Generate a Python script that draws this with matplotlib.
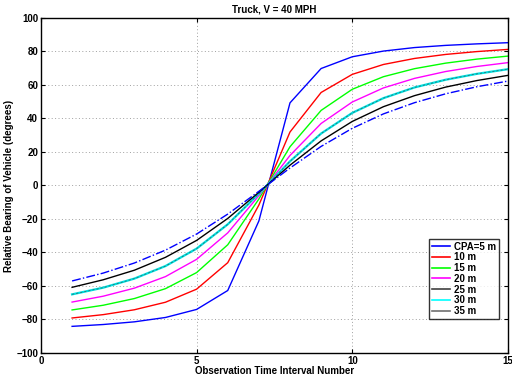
import numpy as np
import matplotlib
matplotlib.use('Agg')
import matplotlib.pyplot as plt
from matplotlib.lines import Line2D

plt.rcParams['font.family'] = ['Liberation Sans', 'DejaVu Sans']
plt.rcParams['font.weight'] = 'bold'

# observation interval number
x = list(range(1, 16))

# relative bearing (degrees), one list per CPA
cpa5 = [-84.1, -83.0, -81.4, -78.8, -74.0, -62.7, -21.2, 49.3, 69.8, 76.8, 80.2, 82.3, 83.6, 84.5, 85.2]
cpa10 = [-79.1, -77.1, -74.2, -69.7, -61.9, -46.1, -11.7, 31.9, 55.5, 66.3, 72.2, 75.8, 78.2, 79.9, 81.2]
cpa15 = [-74.3, -71.5, -67.5, -61.6, -52.0, -35.4, -8.1, 23.1, 44.8, 57.4, 64.9, 69.7, 73.0, 75.4, 77.2]
cpa20 = [-69.6, -66.1, -61.3, -54.4, -44.1, -28.3, -6.1, 17.9, 37.0, 49.8, 58.2, 63.9, 68.0, 71.0, 73.3]
cpa25 = [-65.0, -61.0, -55.6, -48.1, -37.7, -23.2, -4.9, 14.4, 31.0, 43.3, 52.1, 58.5, 63.1, 66.6, 69.4]
cpa30 = [-60.8, -56.3, -50.6, -42.9, -32.8, -19.7, -4.1, 12.1, 26.6, 38.2, 47.0, 53.6, 58.7, 62.6, 65.7]
cpa35 = [-57.0, -52.3, -46.3, -38.6, -29.0, -17.1, -3.5, 10.4, 23.3, 34.1, 42.7, 49.4, 54.7, 58.9, 62.3]

labels = ['CPA=5 m', '10 m', '15 m', '20 m', '25 m', '30 m', '35 m']
legend_colors = ['#0000ff', '#ff0000', '#00ff00', '#ff00ff', '#404040', '#00ffff', '#707070']

fig = plt.figure(figsize=(5.12, 3.81), dpi=100)
ax = fig.add_axes([0.080, 0.0735, 0.912, 0.8795])

ax.plot(x, cpa5, color='#0000ff', lw=1.0)
ax.plot(x, cpa10, color='#ff0000', lw=1.0)
ax.plot(x, cpa15, color='#00ff00', lw=1.0)
ax.plot(x, cpa20, color='#ff00ff', lw=1.0)
ax.plot(x, cpa25, color='#00e0e0', lw=1.6)
ax.plot(x, cpa25, color='#306060', lw=0.5, ls=(0, (3, 3)))
ax.plot(x, cpa30, color='black', lw=1.0)
ax.plot(x, cpa35, color='#0000ff', lw=1.0, ls='-.')

ax.set_xlim(0, 15)
ax.set_ylim(-100, 100)
ax.set_xticks([0, 5, 10, 15])
ax.set_yticks(range(-100, 101, 20))
ax.grid(True, ls=(0, (1, 2.5)), color='#a0a0a0', lw=0.7)
ax.tick_params(direction='in', top=True, right=True, labelsize=7, length=3, pad=2)
for s in ax.spines.values():
    s.set_linewidth(1.0)

ax.set_title('Truck, V = 40 MPH', fontsize=7, fontweight='bold', pad=4)
ax.set_xlabel('Observation Time Interval Number', fontsize=7, fontweight='bold', labelpad=0)
ax.set_ylabel('Relative Bearing of Vehicle (degrees)', fontsize=7, fontweight='bold', labelpad=2)

handles = [Line2D([], [], color=c, lw=1.2) for c in legend_colors]
leg = ax.legend(handles, labels, loc='lower right', bbox_to_anchor=(0.981, 0.101),
                fontsize=7, frameon=True, fancybox=False, borderaxespad=0,
                handlelength=1.9, handletextpad=0.4, labelspacing=0.08,
                borderpad=0.3)
leg.get_frame().set_edgecolor('black')
leg.get_frame().set_linewidth(1.0)
for t in leg.get_texts():
    t.set_fontweight('bold')

fig.savefig('out.png', dpi=100)
